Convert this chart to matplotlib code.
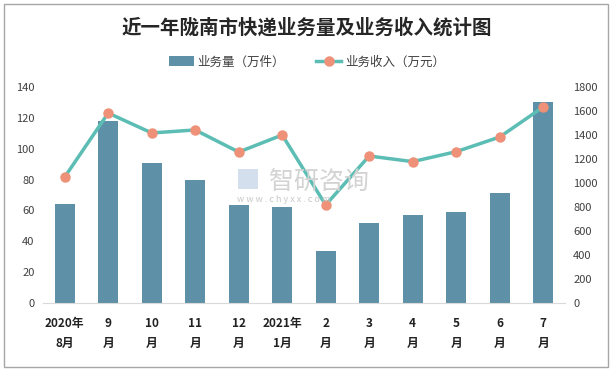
import matplotlib
matplotlib.use("Agg")
import matplotlib.pyplot as plt
from matplotlib.patches import Rectangle
from matplotlib.lines import Line2D
from matplotlib.patches import Patch

plt.rcParams['font.family'] = ['Noto Sans CJK SC', 'DejaVu Sans']

categories = ["2020年\n8月", "9\n月", "10\n月", "11\n月", "12\n月", "2021年\n1月",
              "2\n月", "3\n月", "4\n月", "5\n月", "6\n月", "7\n月"]
volume = [64, 118, 90.5, 80, 63.3, 62, 33.5, 51.6, 56.8, 58.8, 71.1, 130]
revenue = [1050, 1583, 1417, 1442, 1258, 1400, 817, 1225, 1178, 1261, 1383, 1633]
left_ticks = [0, 20, 40, 60, 80, 100, 120, 140]
right_ticks = [0, 200, 400, 600, 800, 1000, 1200, 1400, 1600, 1800]

bar_color = "#5E90A8"
line_color = "#5BBDB4"
marker_color = "#EE9178"
tick_color = "#404040"

fig = plt.figure(figsize=(6.14, 3.71), dpi=100)
fig.patches.append(Rectangle((0.007, 0.011), 0.984, 0.978, transform=fig.transFigure,
                             fill=False, edgecolor="#A6A6A6", linewidth=1.0))

# watermark
fig.text(0.438, 0.51, "智研咨询", fontsize=18, color="#D3D3D3", ha='left', va='center')
fig.text(0.386, 0.462, "w w w . c h y x x . c o m", fontsize=6.5, color="#C8C8C8", ha='left', va='center')
fig.patches.append(Rectangle((0.388, 0.49), 0.032, 0.055, transform=fig.transFigure,
                             facecolor="#C8D8E8", edgecolor="none", alpha=0.8))

ax = fig.add_axes([0.070, 0.1833, 0.850, 0.5822])
ax.patch.set_alpha(0)
x = list(range(len(categories)))
ax.bar(x, volume, width=0.46, color=bar_color, zorder=2)
ax.set_xlim(-0.5, len(categories) - 0.5)
ax.set_ylim(0, 140)
ax.set_yticks(left_ticks)
ax.set_xticks(x)
ax.set_xticklabels(categories, fontsize=8.5, fontweight='bold', color="#222222", linespacing=1.75)
ax.tick_params(axis='x', length=0, pad=10)
ax.tick_params(axis='y', length=0, labelsize=8, labelcolor=tick_color, pad=6)
for s in ['top', 'right', 'left']:
    ax.spines[s].set_visible(False)
ax.spines['bottom'].set_color("#D9D9D9")

ax2 = ax.twinx()
ax2.plot(x, revenue, color=line_color, linewidth=2.5, marker='o', markersize=6.5,
         markerfacecolor=marker_color, markeredgecolor=marker_color, zorder=3)
ax2.set_ylim(0, 1800)
ax2.set_yticks(right_ticks)
ax2.tick_params(axis='y', length=0, labelsize=8, labelcolor=tick_color, pad=6)
for s in ['top', 'right', 'left', 'bottom']:
    ax2.spines[s].set_visible(False)

fig.text(0.5, 0.925, "近一年陇南市快递业务量及业务收入统计图", fontsize=14, fontweight='bold',
         color="#262626", ha='center', va='center')

handles = [Patch(facecolor=bar_color, label="业务量（万件）"),
           Line2D([0], [0], color=line_color, linewidth=2.5, marker='o', markersize=6.5,
                  markerfacecolor=marker_color, markeredgecolor=marker_color, label="业务收入（万元）")]
fig.legend(handles=handles, loc='center', bbox_to_anchor=(0.5, 0.833), ncol=2, frameon=False,
           fontsize=9, handlelength=2.0, handleheight=0.8, columnspacing=2.5, handletextpad=0.3,
           labelcolor="#404040")

fig.savefig("out.png", dpi=100)
